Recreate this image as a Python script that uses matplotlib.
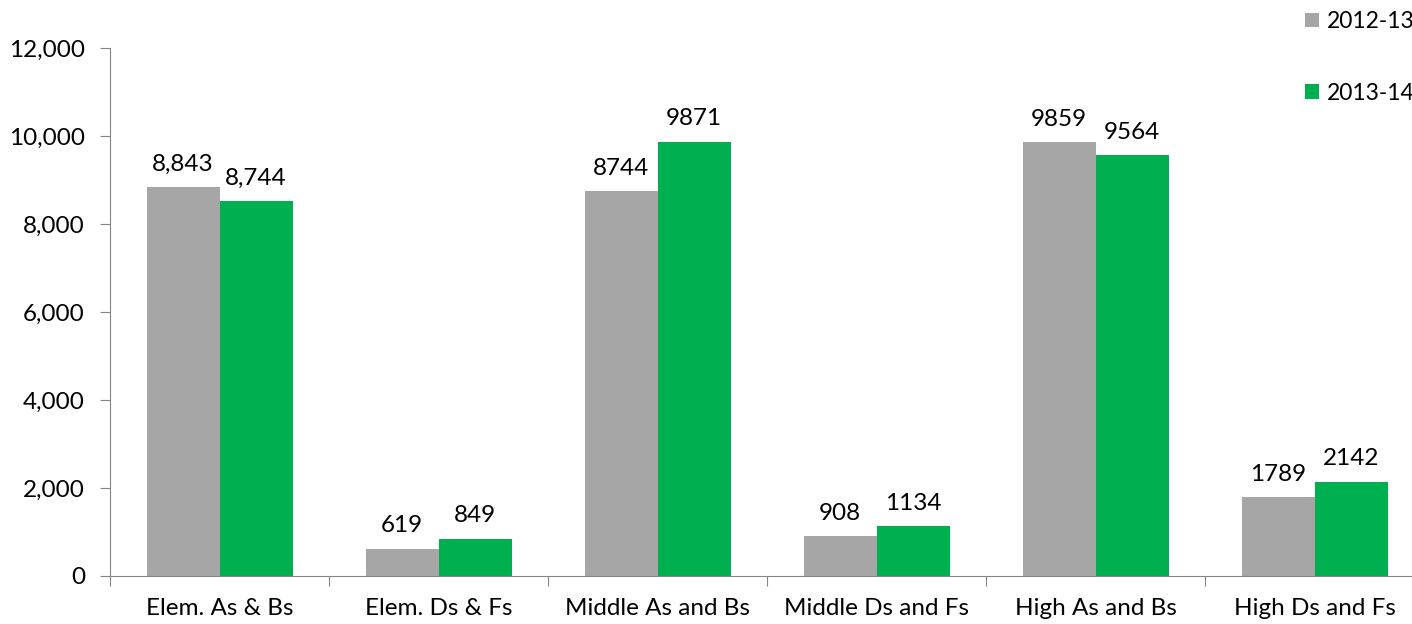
import matplotlib
matplotlib.use("Agg")
import matplotlib.pyplot as plt
from matplotlib.patches import Patch
import numpy as np

categories = ["Elem. As & Bs", "Elem. Ds & Fs", "Middle As and Bs",
              "Middle Ds and Fs", "High As and Bs", "High Ds and Fs"]
series_names = ["2012-13", "2013-14"]
values_2012 = [8843, 619, 8744, 908, 9859, 1789]
values_2013 = [8520, 849, 9871, 1134, 9564, 2142]
labels_2012 = ["8,843", "619", "8744", "908", "9859", "1789"]
labels_2013 = ["8,744", "849", "9871", "1134", "9564", "2142"]
yticks = [0, 2000, 4000, 6000, 8000, 10000, 12000]

gray = "#A6A6A6"
green = "#00B050"
axis_col = "#868686"
fs = 17.5

plt.rcParams['font.family'] = ['Lato', 'DejaVu Sans']

W, H = 1412, 624
fig = plt.figure(figsize=(W / 100, H / 100), dpi=100)
ax = fig.add_axes([110 / W, (H - 576) / H, (1424 - 110) / W, (576 - 48) / H])

x = np.arange(len(categories))
bw = 1 / 3
b1 = ax.bar(x - bw / 2, values_2012, bw, color=gray)
b2 = ax.bar(x + bw / 2, values_2013, bw, color=green)

for bars, labs in ((b1, labels_2012), (b2, labels_2013)):
    for r, lab in zip(bars, labs):
        ax.annotate(lab, (r.get_x() + r.get_width() / 2, r.get_height()),
                    xytext=(0, 9), textcoords="offset points",
                    ha="center", va="bottom", fontsize=fs, color="black")

ax.set_xlim(-0.5, len(categories) - 0.5)
ax.set_ylim(0, 12000)
ax.set_yticks(yticks)
ax.set_yticklabels([f"{v:,}" for v in yticks], fontsize=fs)
ax.set_xticks(np.arange(len(categories) + 1) - 0.5)
ax.set_xticklabels([])
ax.set_xticks(x, minor=True)
ax.set_xticklabels(categories, minor=True, fontsize=fs)
ax.tick_params(axis="x", which="minor", length=0, pad=16)
ax.tick_params(axis="x", which="major", length=7, color=axis_col)
ax.tick_params(axis="y", length=7, color=axis_col, pad=11)

for s in ("top", "right"):
    ax.spines[s].set_visible(False)
for s in ("left", "bottom"):
    ax.spines[s].set_color(axis_col)

handles = [Patch(facecolor=gray), Patch(facecolor=green)]
fig.legend(handles, series_names, loc="upper left",
           bbox_to_anchor=(1296 / W, 1 - 2 / H), frameon=False,
           fontsize=16.5, handlelength=0.6, handleheight=0.6,
           handletextpad=0.35, labelspacing=2.2, borderaxespad=0)

fig.savefig("out.png", dpi=100)
